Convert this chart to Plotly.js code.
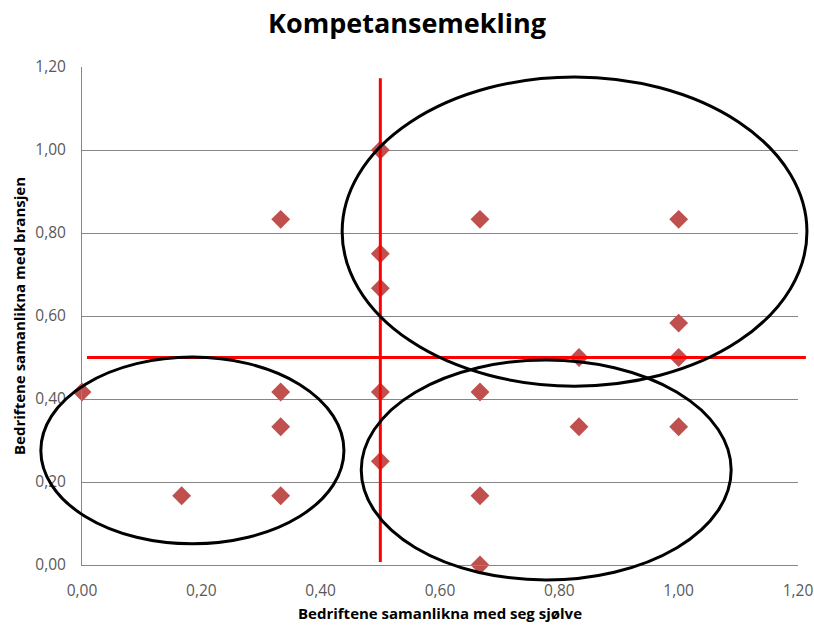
<!DOCTYPE html>
<html>
<head>
<meta charset="utf-8">
<script src="https://cdn.plot.ly/plotly-3.0.1.min.js"></script>
<style>
  html, body { margin: 0; padding: 0; background: #ffffff; }
  #chart { width: 814px; height: 627px; }
</style>
</head>
<body>
<div id="chart"></div>
<script>
// Company scores: compared with themselves (x) and with the industry (y)
var selfScore = [0.500, 0.333, 0.667, 1.000, 0.500, 0.500, 1.000, 0.833, 1.000, 0.000, 0.333,
                 0.500, 0.667, 0.333, 0.833, 1.000, 0.500, 0.167, 0.333, 0.667, 0.667];
var industryScore = [1.000, 0.833, 0.833, 0.833, 0.750, 0.667, 0.583, 0.500, 0.500, 0.417, 0.417,
                     0.417, 0.417, 0.333, 0.333, 0.333, 0.250, 0.167, 0.167, 0.167, 0.000];

// Split thresholds for the quadrants
var splitX = 0.5;
var splitY = 0.5;

// Axis ticks
var tickValues = [0, 0.2, 0.4, 0.6, 0.8, 1.0, 1.2];

// Group outlines in data units: [x0, x1, y0, y1]
var groups = [
  [0.436, 1.215, 0.431, 1.176],
  [-0.069, 0.439, 0.051, 0.501],
  [0.468, 1.088, -0.036, 0.494]
];

var xMax = 1.2, yMax = 1.2;
var font = '"Open Sans", "Liberation Sans", sans-serif';

var trace = {
  type: 'scatter',
  mode: 'markers',
  x: selfScore,
  y: industryScore,
  cliponaxis: false,
  marker: { symbol: 'diamond', size: 14.5, color: '#C0504D', line: { width: 0 } },
  hoverinfo: 'x+y',
  showlegend: false
};

var shapes = [
  // vertical split
  { type: 'line', xref: 'x', yref: 'y', x0: splitX, x1: splitX, y0: 0.007, y1: 1.173,
    line: { color: '#FF0000', width: 3 } },
  // horizontal split, running a little past the plot edge
  { type: 'line', xref: 'paper', yref: 'y', x0: 0.007, x1: 1.011, y0: splitY, y1: splitY,
    line: { color: '#FF0000', width: 3 } }
];
groups.forEach(function (g) {
  shapes.push({
    type: 'circle', xref: 'paper', yref: 'paper',
    x0: g[0] / xMax, x1: g[1] / xMax, y0: g[2] / yMax, y1: g[3] / yMax,
    line: { color: '#000000', width: 3 }, fillcolor: 'rgba(0,0,0,0)'
  });
});

var layout = {
  width: 814,
  height: 627,
  margin: { l: 82, r: 16, t: 67, b: 62 },
  paper_bgcolor: '#ffffff',
  plot_bgcolor: '#ffffff',
  separators: ', ',
  font: { family: font, color: '#595959', size: 14 },
  title: {
    text: 'Kompetansemekling',
    font: { family: font, size: 27, color: '#000000', weight: 'bold' },
    x: 0.5, xanchor: 'center', y: 0.962, yanchor: 'middle'
  },
  xaxis: {
    range: [0, xMax],
    tickvals: tickValues,
    tickformat: '.2f',
    showgrid: false,
    zeroline: false,
    showline: true,
    linecolor: '#868686',
    linewidth: 1,
    ticks: '',
    ticklabelstandoff: 11,
    tickfont: { family: font, size: 15.5, color: '#595959' },
    title: { text: 'Bedriftene samanlikna med seg sjølve',
             font: { family: font, size: 15, color: '#000000', weight: 'bold' }, standoff: 8 }
  },
  yaxis: {
    range: [0, yMax],
    tickvals: tickValues,
    tickformat: '.2f',
    showgrid: true,
    gridcolor: '#868686',
    gridwidth: 1,
    zeroline: false,
    showline: true,
    linecolor: '#868686',
    linewidth: 1,
    ticks: '',
    ticklabelstandoff: 12,
    tickfont: { family: font, size: 15.5, color: '#595959' },
    title: { text: 'Bedriftene samanlikna med bransjen',
             font: { family: font, size: 15, color: '#000000', weight: 'bold' }, standoff: 6 }
  },
  shapes: shapes
};

Plotly.newPlot('chart', [trace], layout, { displayModeBar: false, staticPlot: true });
</script>
</body>
</html>
